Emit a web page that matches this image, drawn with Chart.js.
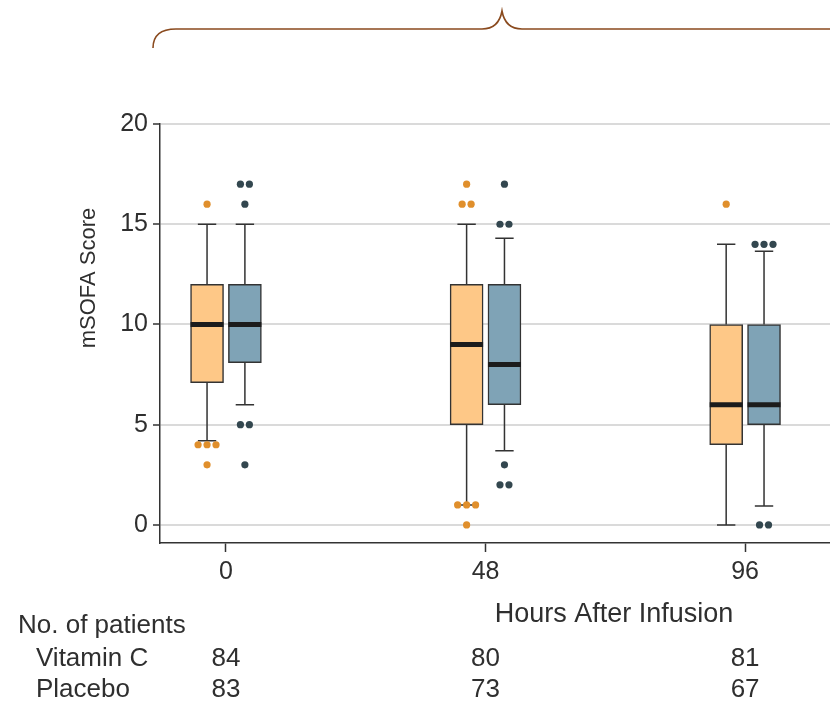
<!DOCTYPE html>
<html><head><meta charset="utf-8">
<script src="https://cdn.jsdelivr.net/npm/chart.js@4.4.1/dist/chart.umd.min.js"></script>
<style>html,body{margin:0;padding:0;background:#fff;overflow:hidden;}#wrap{position:relative;width:830px;height:705px;overflow:hidden;}</style>
</head><body><div id="wrap"><canvas id="c" width="834" height="705"></canvas></div>
<script>
// ---- data ----
const hours = [0, 48, 96];
const xTickLabels = ['0', '48', '96'];
// Vitamin C
const vitQ1 = [7.1, 5, 4];
const vitMedian = [10, 9, 6];
const vitQ3 = [12, 12, 10];
const vitWhiskerLow = [4.2, 1, 0];
const vitWhiskerHigh = [15, 15, 14];
const vitOutliers = [[16, 4, 4, 4, 3], [17, 16, 16, 1, 1, 1, 0], [16]];
// Placebo
const plaQ1 = [8.1, 6, 5];
const plaMedian = [10, 8, 6];
const plaQ3 = [12, 12, 10];
const plaWhiskerLow = [6, 3.7, 0.95];
const plaWhiskerHigh = [15, 14.3, 13.65];
const plaOutliers = [[17, 17, 16, 5, 5, 3], [17, 15, 15, 3, 2, 2], [14, 14, 14, 0, 0]];
// patient counts
const vitPatients = [84, 80, 81];
const plaPatients = [83, 73, 67];

// ---- layout constants (in hours units of the x scale) ----
const OFFSET = 3.5, CAP = 1.7, HALF = 3.05, JIT = 1.66;
const FONT = "'Liberation Sans', Arial, sans-serif";
const TXT = '#2f2f2f';

function boxData(off, q1, q3) {
  return hours.map((h, i) => ({ x: h + off, y: [q1[i], q3[i]] }));
}
function whiskerData(off, q1, q3, lo, hi) {
  const pts = [];
  hours.forEach((h, i) => {
    const c = h + off;
    pts.push({ x: c, y: q3[i] }, { x: c, y: hi[i] }, { x: c, y: null });
    pts.push({ x: c, y: q1[i] }, { x: c, y: lo[i] }, { x: c, y: null });
    pts.push({ x: c - CAP, y: hi[i] }, { x: c + CAP, y: hi[i] }, { x: c, y: null });
    pts.push({ x: c - CAP, y: lo[i] }, { x: c + CAP, y: lo[i] }, { x: c, y: null });
  });
  return pts;
}
function medianData(off, med) {
  const pts = [];
  hours.forEach((h, i) => {
    const c = h + off;
    pts.push({ x: c - HALF, y: med[i] }, { x: c + HALF, y: med[i] }, { x: c, y: null });
  });
  return pts;
}
function outlierData(off, lists) {
  const pts = [];
  hours.forEach((h, i) => {
    const c = h + off;
    const counts = {};
    lists[i].forEach(v => counts[v] = (counts[v] || 0) + 1);
    const seen = {};
    lists[i].forEach(v => {
      const k = seen[v] || 0; seen[v] = k + 1;
      pts.push({ x: c + (k - (counts[v] - 1) / 2) * JIT, y: v });
    });
  });
  return pts;
}

const textPlugin = {
  id: 'texts',
  afterDraw(chart) {
    const ctx = chart.ctx, xs = chart.scales.x;
    ctx.save();
    ctx.fillStyle = TXT;
    // y title
    ctx.save();
    ctx.translate(89, 278);
    ctx.rotate(-Math.PI / 2);
    ctx.font = '22px ' + FONT;
    ctx.textAlign = 'center'; ctx.textBaseline = 'middle';
    ctx.fillText('mSOFA Score', 0, 0);
    ctx.restore();
    // x title
    ctx.font = '27px ' + FONT;
    ctx.textAlign = 'center'; ctx.textBaseline = 'middle';
    ctx.fillText('Hours After Infusion', 614, 615);
    // patient table
    ctx.font = '26px ' + FONT;
    ctx.textAlign = 'left';
    ctx.fillText('No. of patients', 18, 626);
    ctx.fillText('Vitamin C', 36, 659);
    ctx.fillText('Placebo', 36, 690);
    ctx.textAlign = 'center';
    hours.forEach((h, i) => {
      const px = xs.getPixelForValue(h);
      ctx.fillText(String(vitPatients[i]), px, 659);
      ctx.fillText(String(plaPatients[i]), px, 690);
    });
    // brace
    ctx.strokeStyle = '#8a4a1e';
    ctx.lineWidth = 1.6;
    ctx.beginPath();
    ctx.moveTo(153, 48);
    ctx.bezierCurveTo(153, 36, 160, 29, 176, 29);
    ctx.lineTo(482, 29);
    ctx.bezierCurveTo(494, 29, 500, 22, 502, 11);
    ctx.bezierCurveTo(504, 22, 510, 29, 522, 29);
    ctx.lineTo(836, 29);
    ctx.stroke();
    ctx.restore();
  }
};

new Chart(document.getElementById('c'), {
  type: 'bar',
  data: {
    datasets: [
      { type: 'scatter', label: 'Vitamin C outliers', data: outlierData(-OFFSET, vitOutliers),
        backgroundColor: '#e08f2c', borderWidth: 0, pointRadius: 3.6, order: 0 },
      { type: 'scatter', label: 'Placebo outliers', data: outlierData(OFFSET, plaOutliers),
        backgroundColor: '#33474f', borderWidth: 0, pointRadius: 3.6, order: 0 },
      { type: 'line', label: 'Vitamin C median', data: medianData(-OFFSET, vitMedian),
        borderColor: '#1c1c1c', borderWidth: 5, pointRadius: 0, spanGaps: false, order: 1, borderCapStyle: 'butt' },
      { type: 'line', label: 'Placebo median', data: medianData(OFFSET, plaMedian),
        borderColor: '#1c1c1c', borderWidth: 5, pointRadius: 0, spanGaps: false, order: 1, borderCapStyle: 'butt' },
      { type: 'bar', label: 'Vitamin C', data: boxData(-OFFSET, vitQ1, vitQ3),
        backgroundColor: '#fec887', borderColor: '#333', borderWidth: 1.5, borderSkipped: false,
        barThickness: 33, grouped: false, order: 2 },
      { type: 'bar', label: 'Placebo', data: boxData(OFFSET, plaQ1, plaQ3),
        backgroundColor: '#7fa3b6', borderColor: '#333', borderWidth: 1.5, borderSkipped: false,
        barThickness: 33, grouped: false, order: 2 },
      { type: 'line', label: 'Vitamin C whiskers', data: whiskerData(-OFFSET, vitQ1, vitQ3, vitWhiskerLow, vitWhiskerHigh),
        borderColor: '#333', borderWidth: 1.5, pointRadius: 0, spanGaps: false, order: 3 },
      { type: 'line', label: 'Placebo whiskers', data: whiskerData(OFFSET, plaQ1, plaQ3, plaWhiskerLow, plaWhiskerHigh),
        borderColor: '#333', borderWidth: 1.5, pointRadius: 0, spanGaps: false, order: 3 }
    ]
  },
  options: {
    responsive: false,
    animation: false,
    devicePixelRatio: 1,
    layout: { padding: { top: 124, left: 0, right: 0, bottom: 0 } },
    plugins: { legend: { display: false }, tooltip: { enabled: false } },
    events: [],
    scales: {
      x: {
        type: 'linear', position: 'bottom', min: -12.2, max: 111.7, offset: false,
        afterBuildTicks: s => { s.ticks = hours.map(v => ({ value: v })); },
        afterFit: s => { s.height = 162; },
        ticks: { callback: (v, i) => xTickLabels[i], font: { family: FONT, size: 25 }, color: TXT,
          padding: 5, maxRotation: 0, autoSkip: false },
        grid: { offset: false, drawOnChartArea: false, drawTicks: true, tickLength: 9, tickColor: '#333', tickWidth: 1.5 },
        border: { display: true, color: '#333', width: 1.5 }
      },
      y: {
        type: 'linear', min: -0.9, max: 20,
        afterFit: s => { s.width = 160; },
        ticks: { stepSize: 5, includeBounds: false, font: { family: FONT, size: 25 }, color: TXT, padding: 5 },
        grid: { color: '#dadada', lineWidth: 2, tickColor: '#333', tickLength: 7, tickWidth: 1.5 },
        border: { display: true, color: '#333', width: 1.5 }
      }
    }
  },
  plugins: [textPlugin]
});
</script>
</body></html>
